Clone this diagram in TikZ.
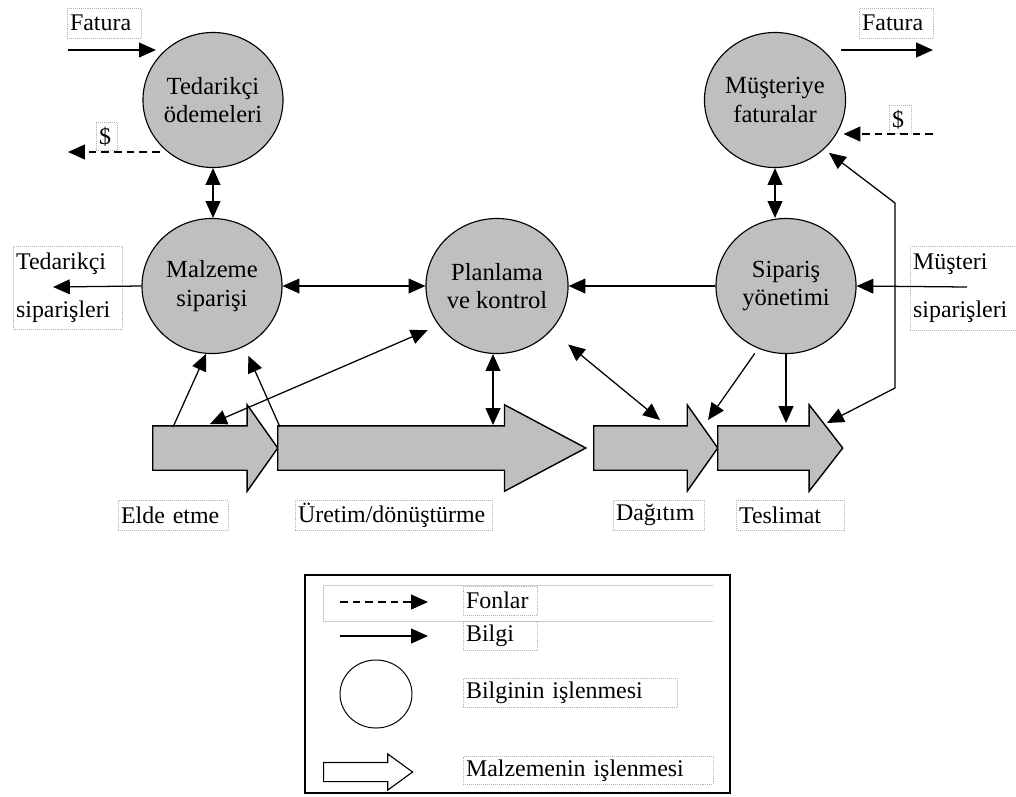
\documentclass[tikz,border=0pt]{standalone}
\usepackage{fontspec}
\setmainfont{Liberation Serif}
\usetikzlibrary{arrows.meta, shapes.arrows, shapes.geometric, calc}
\tikzset{proc/.style={ellipse, draw, fill=black!25, line width=0.8pt, minimum width=3.5cm, minimum height=3.375cm, inner sep=0pt, align=center, font=\fontsize{17.5}{20.5}\selectfont}}
\tikzset{flow/.style={single arrow, draw, fill=black!25, line width=1pt, inner sep=0pt, text height=1.075cm, text depth=0pt, minimum width=2.125cm, single arrow head extend=0.525cm, anchor=tail}}
\tikzset{lbl/.style={draw=black!30, densely dotted, anchor=north west, inner xsep=2pt, inner ysep=0pt, align=left, font=\fontsize{17}{20.5}\selectfont}}
\tikzset{tip/.tip={Triangle[length=0.42cm,width=0.37cm]}}
\tikzset{info/.style={line width=0.9pt, -tip}}
\tikzset{fund/.style={info, dash pattern=on 5.5pt off 3.5pt}}
\tikzset{both/.style={line width=0.9pt, tip-tip}}

\begin{document}
\begin{tikzpicture}[x=0.025cm, y=-0.025cm]
  \useasboundingbox (0,0) rectangle (1016,796);

  % bilgi isleme
  \node[proc] (ted) at (213,100) {Tedarikçi\\ödemeleri};
  \node[proc] (mus) at (775,100) {Müşteriye\\faturalar};
  \node[proc] (malz) at (212,286) {Malzeme\\siparişi};
  \node[proc] (plan) at (497,286) {Planlama\\ve kontrol};
  \node[proc] (sip) at (786,286) {Sipariş\\yönetimi};

  % malzeme akisi
  \node[flow, minimum height=3.125cm, single arrow tip angle=109.5] (elde) at (152,448) {};
  \node[flow, minimum height=7.7cm, single arrow tip angle=56] (uret) at (277,448) {};
  \node[flow, minimum height=3.1cm, single arrow tip angle=109.5] (dag) at (593,448) {};
  \node[flow, minimum height=3.125cm, single arrow tip angle=104.3] (tes) at (717,448) {};

  % etiketler
  \node[lbl, text width=1.7cm, minimum height=0.75cm] (fatL-lbl) at (67,8) {Fatura};
  \node[lbl, text width=0.38cm, minimum height=0.7cm] (dolL-lbl) at (96,122) {\$};
  \node[lbl, text width=1.72cm, minimum height=0.75cm] (fatR-lbl) at (859,8) {Fatura};
  \node[lbl, text width=0.4cm, minimum height=0.7cm] (dolR-lbl) at (889,105) {\$};
  \node[lbl, text width=2.58cm, minimum height=2.075cm] (tsip-lbl) at (13,246) {Tedarikçi\\[14pt]siparişleri};
  \node[lbl, text width=2.55cm, minimum height=2.1cm] (msip-lbl) at (910,246) {Müşteri\\[14pt]siparişleri};
  \node[lbl, text width=2.6cm, minimum height=0.75cm] (elde-lbl) at (118,500) {Elde etme};
  \node[lbl, text width=4.78cm, minimum height=0.75cm] (uret-lbl) at (295,500) {Üretim/dönüştürme};
  \node[lbl, text width=2.13cm, minimum height=0.75cm] (dag-lbl) at (613,500) {Dağıtım};
  \node[lbl, text width=2.56cm, minimum height=0.75cm] (tes-lbl) at (736,500) {Teslimat};

  % serbest uclar
  \coordinate (fatL) at (68,50);
  \coordinate (dolL) at (68,152);
  \coordinate (fatR) at (933,50);
  \coordinate (dolR) at (933,134);
  \coordinate (tsip) at (53,287);
  \coordinate (msip) at (967,287);
  \coordinate (eldeA) at (173,427);
  \coordinate (eldeB) at (210,424);
  \coordinate (uretA) at (280,427);
  \coordinate (uretB) at (493,425);
  \coordinate (dagA) at (660,420);
  \coordinate (dagB) at (708,420);
  \coordinate (tesA) at (789,423);
  \coordinate (tesB) at (827,423);
  \coordinate (bendA) at (895,203);
  \coordinate (bendB) at (895,388);

  \draw[info] (fatL) -- (fatL -| ted.145);
  \draw[fund] (dolL -| ted.220) -- (dolL);
  \draw[info] (fatR -| mus.20) -- (fatR);
  \draw[fund] (dolR) -- (dolR -| mus.-15);
  \draw[both] (ted.south) -- (ted.south |- malz.north);
  \draw[both] (mus.south) -- (mus.south |- sip.north);
  \draw[info] (malz.west) -- (tsip);
  \draw[info] (msip) -- (sip.east);
  \draw[both] (malz.east) -- (plan.west);
  \draw[info] (sip.west) -- (plan.east);
  \draw[info] (eldeA) -- (malz.265);
  \draw[info, shorten >=0.25cm] (uretA) -- (malz.298);
  \draw[both, shorten <=0.3cm] (plan.214) -- (eldeB);
  \draw[both] (uretB |- plan.south) -- (uretB);
  \draw[both, shorten <=0.55cm] (plan) -- (dagA);
  \draw[info, shorten <=0.15cm] (sip.246) -- (dagB);
  \draw[info] (sip.south) -- (sip.south |- tesA);
  \draw[both, shorten <=0.15cm] (mus.-45) -- (bendA) -- (bendB) -- (tesB);

  % lejant
  \draw[line width=1.2pt] (305,575) rectangle (730,793);
  \draw[black!20] (713,585) -| (323,621) -- (713,621);
  \coordinate (legF1) at (340,602);
  \coordinate (legF2) at (428,602);
  \coordinate (legB1) at (340,636);
  \coordinate (legB2) at (428,636);
  \draw[fund] (legF1) -- (legF2);
  \draw[info] (legB1) -- (legB2);
  \node[ellipse, draw, line width=0.7pt, minimum width=1.8cm, minimum height=1.7cm] (legCirc) at (376,694) {};
  \node[single arrow, draw, line width=0.8pt, anchor=tail, inner sep=0pt, text height=0.45cm, text depth=0pt, minimum width=0.875cm, single arrow head extend=0.2125cm, minimum height=2.225cm, single arrow tip angle=72] (legFlow) at (323,772) {};
  \node[lbl, text width=1.72cm, minimum height=0.725cm] (fon-lbl) at (463,586) {Fonlar};
  \node[lbl, text width=1.72cm, minimum height=0.725cm] (bil-lbl) at (463,621) {Bilgi};
  \node[lbl, text width=5.2cm, minimum height=0.725cm] (bis-lbl) at (463,678) {Bilginin işlenmesi};
  \node[lbl, text width=6.1cm, minimum height=0.7cm] (mis-lbl) at (463,756) {Malzemenin işlenmesi};
\end{tikzpicture}
\end{document}
